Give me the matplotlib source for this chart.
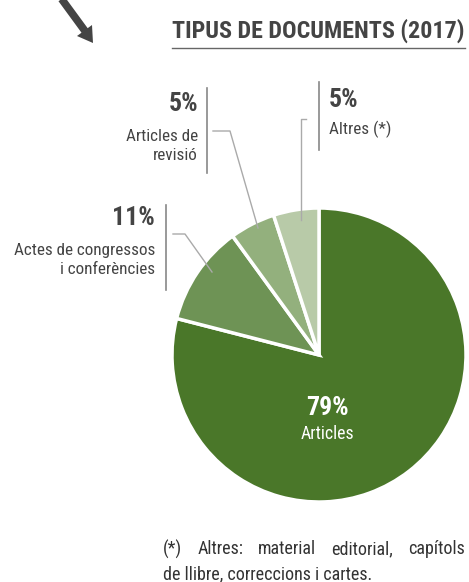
import matplotlib
matplotlib.use("Agg")
import matplotlib.pyplot as plt
from matplotlib.patches import Polygon

# Data
categories = ["Articles", "Actes de congressos\ni conferències", "Articles de\nrevisió", "Altres (*)"]
shares = [79, 11, 5, 5]
colors = ["#4a7729", "#6e9355", "#93b07d", "#b8caa8"]
note_lines = ["(*) Altres: material editorial, capítols", "de llibre, correccions i cartes."]

W, H = 469, 582
COND = ["Roboto Condensed", "DejaVu Sans"]
TXT = "#444444"
LEAD = "#aaaaaa"
PCT = 18.5
LAB = 12.3


def py(y):
    # pixel y (top-down) -> data y (bottom-up)
    return H - y


fig = plt.figure(figsize=(W / 100, H / 100), dpi=100)
ax = fig.add_axes([0, 0, 1, 1])

# Pie
ax.pie(shares, colors=colors, startangle=90, counterclock=False,
       center=(319, py(355)), radius=147,
       wedgeprops=dict(edgecolor="white", linewidth=2.5))
ax.set_xlim(0, W)
ax.set_ylim(0, H)
ax.set_aspect("equal")
ax.axis("off")

# Arrow at top left
ax.plot([55, 85], [py(-10), py(31)], color="#444444", lw=5.5, solid_capstyle="butt")
ax.add_patch(Polygon([(93, py(43)), (92, py(25)), (77, py(36))], closed=True,
                     facecolor="#444444", edgecolor="none"))

# Title
ax.text(464, py(31), "TIPUS DE DOCUMENTS (2017)", family=COND, fontweight="bold",
        fontsize=17.3, color=TXT, ha="right", va="center")
ax.plot([172, 465], [py(48), py(48)], color="#666666", lw=1)

# Inside label
ax.text(327, py(408), f"{shares[0]}%", family=COND, fontweight="bold", fontsize=PCT,
        color="white", ha="center", va="center")
ax.text(327, py(434), categories[0], family=COND, fontsize=LAB + 0.5,
        color="white", ha="center", va="center")

# Actes
ax.text(155, py(218), f"{shares[1]}%", family=COND, fontweight="bold", fontsize=PCT,
        color=TXT, ha="right", va="center")
ax.text(155, py(260), categories[1], family=COND, fontsize=LAB, color=TXT,
        ha="right", va="center", linespacing=1.3)
ax.plot([166, 166], [py(205), py(290)], color="#888888", lw=1.2)
ax.plot([173, 185, 212], [py(234), py(234), py(272)], color=LEAD, lw=1)

# Revisio
ax.text(198, py(104), f"{shares[2]}%", family=COND, fontweight="bold", fontsize=PCT,
        color=TXT, ha="right", va="center")
ax.text(198, py(146), categories[2], family=COND, fontsize=LAB, color=TXT,
        ha="right", va="center", linespacing=1.3)
ax.plot([207, 207], [py(88), py(173)], color="#888888", lw=1.2)
ax.plot([213, 230, 258], [py(131), py(131), py(228)], color=LEAD, lw=1)

# Altres
ax.text(329, py(100), f"{shares[3]}%", family=COND, fontweight="bold", fontsize=PCT,
        color=TXT, ha="left", va="center")
ax.text(329, py(129), categories[3], family=COND, fontsize=LAB, color=TXT,
        ha="left", va="center")
ax.plot([319, 319], [py(82), py(150)], color="#888888", lw=1.2)
ax.plot([306, 301, 301], [py(119), py(119), py(220)], color=LEAD, lw=1)

# Footnote: first line justified between x=163 and x=465
renderer = fig.canvas.get_renderer()
words = note_lines[0].split()
widths = []
for w in words:
    t = ax.text(0, 0, w, family=COND, fontsize=13)
    widths.append(t.get_window_extent(renderer).width)
    t.remove()
gap = (465 - 163 - sum(widths)) / (len(words) - 1)
x = 163
for w, wd in zip(words, widths):
    ax.text(x, py(549), w, family=COND, fontsize=13, color="#333333", ha="left", va="center")
    x += wd + gap
ax.text(163, py(574), note_lines[1], family=COND,
        fontsize=13, color="#333333", ha="left", va="center")

fig.savefig("out.png", dpi=100, facecolor="white")
